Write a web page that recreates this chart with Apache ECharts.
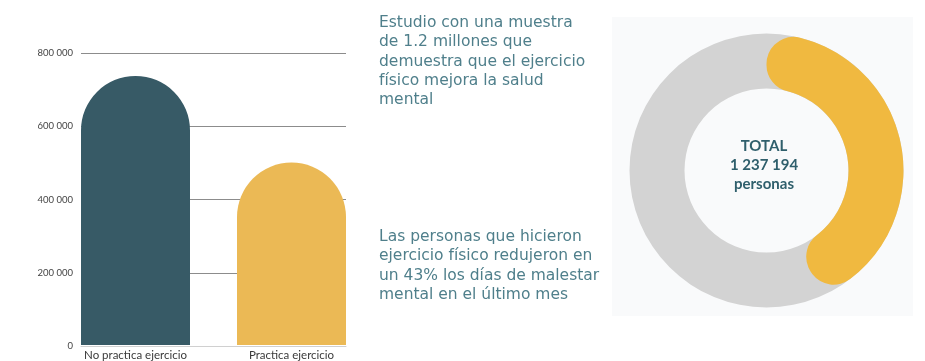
<!DOCTYPE html>
<html>
<head>
<meta charset="utf-8">
<script src="https://cdn.jsdelivr.net/npm/echarts@6/dist/echarts.min.js"></script>
<style>
  html, body { margin: 0; padding: 0; background: #ffffff; }
  #chart { width: 925px; height: 361px; }
</style>
</head>
<body>
<div id="chart"></div>
<script>
// Participants by exercise habit
const categories = ['No practica ejercicio', 'Practica ejercicio'];
const participants = [737194, 500000];
const barColors = ['#375a66', '#ebb955'];
const yTicks = [0, 200000, 400000, 600000, 800000];

// Ring shares (percent of the circle): practising exercise vs the rest
const ringLabels = ['Practica ejercicio', 'Resto'];
const ringShares = [43.5, 56.5];

const totalText = ['TOTAL', '1 237 194', 'personas'];
const introText = ['Estudio con una muestra', 'de 1.2 millones que', 'demuestra que el ejercicio', 'físico mejora la salud', 'mental'];
const resultText = ['Las personas que hicieron', 'ejercicio físico redujeron en', 'un 43% los días de malestar', 'mental en el último mes'];

const fmt = v => String(v).replace(/\B(?=(\d{3})+(?!\d))/g, ' ');

const chart = echarts.init(document.getElementById('chart'), null, { renderer: 'canvas' });

const gridTop = 53;
const gridHeight = 293;
const yMax = yTicks[yTicks.length - 1];
const yStep = yTicks[1] - yTicks[0];
const bodyFont = '15.5px "DejaVu Sans"';

chart.setOption({
  animation: false,
  backgroundColor: '#ffffff',
  grid: [
    // scale lines
    { left: 81, top: gridTop, width: 265, height: gridHeight },
    // bars
    { left: 57.5, top: gridTop, width: 312, height: gridHeight }
  ],
  xAxis: [
    {
      gridIndex: 0, type: 'category', data: categories,
      axisLine: { show: true, lineStyle: { color: '#d0d0d0', width: 1 } },
      axisTick: { show: false }, axisLabel: { show: false }, splitLine: { show: false }
    },
    {
      gridIndex: 1, type: 'category', data: categories,
      axisLine: { show: false }, axisTick: { show: false },
      axisLabel: { show: true, color: '#3a3a3a', fontFamily: 'Lato', fontSize: 11.5, margin: 4 }
    }
  ],
  yAxis: [
    {
      gridIndex: 0, type: 'value', min: 0, max: yMax, interval: yStep,
      axisLine: { show: false }, axisTick: { show: false },
      axisLabel: { color: '#444', fontFamily: 'Lato', fontSize: 9.5, margin: 8, formatter: fmt },
      splitLine: { show: true, lineStyle: { color: '#8c8c8c', width: 1 } }
    },
    {
      gridIndex: 1, type: 'value', min: 0, max: yMax, interval: yStep,
      axisLine: { show: false }, axisTick: { show: false },
      axisLabel: { show: false }, splitLine: { show: false }
    }
  ],
  graphic: [
    {
      type: 'rect', z: -10, silent: true,
      shape: { x: 612, y: 17, width: 301, height: 299 },
      style: { fill: '#f9fafb' }
    },
    {
      type: 'text', silent: true, z: 10,
      style: {
        x: 379, y: 13.5, text: introText.join('\n'),
        font: bodyFont, fill: '#4f7f8b', lineHeight: 19.3
      }
    },
    {
      type: 'text', silent: true, z: 10,
      style: {
        x: 379, y: 227.5, text: resultText.join('\n'),
        font: bodyFont, fill: '#4f7f8b', lineHeight: 19.3
      }
    },
    {
      type: 'text', silent: true, z: 10,
      style: {
        x: 764, y: 137, text: totalText.join('\n'), align: 'center',
        font: 'bold 15px "Lato"', fill: '#2f5f6c', lineHeight: 19
      }
    }
  ],
  series: [
    {
      type: 'bar', xAxisIndex: 1, yAxisIndex: 1, barWidth: 109,
      data: participants.map((v, i) => ({ value: v, itemStyle: { color: barColors[i] } })),
      itemStyle: { borderRadius: [54.5, 54.5, 0, 0] },
      z: 3
    },
    {
      type: 'pie', silent: true, center: [766.5, 170.5], radius: [82, 137],
      label: { show: false }, labelLine: { show: false },
      data: [{ name: 'Total', value: 1, itemStyle: { color: '#d3d3d3' } }],
      z: 1
    },
    {
      type: 'pie', silent: true, center: [766.5, 170.5], radius: [82, 137],
      startAngle: 90, clockwise: true,
      label: { show: false }, labelLine: { show: false },
      itemStyle: { borderRadius: 27 },
      data: ringShares.map((v, i) => ({
        name: ringLabels[i], value: v,
        itemStyle: { color: i === 0 ? '#f0b940' : 'rgba(0,0,0,0)' }
      })),
      z: 2
    }
  ]
});
</script>
</body>
</html>
